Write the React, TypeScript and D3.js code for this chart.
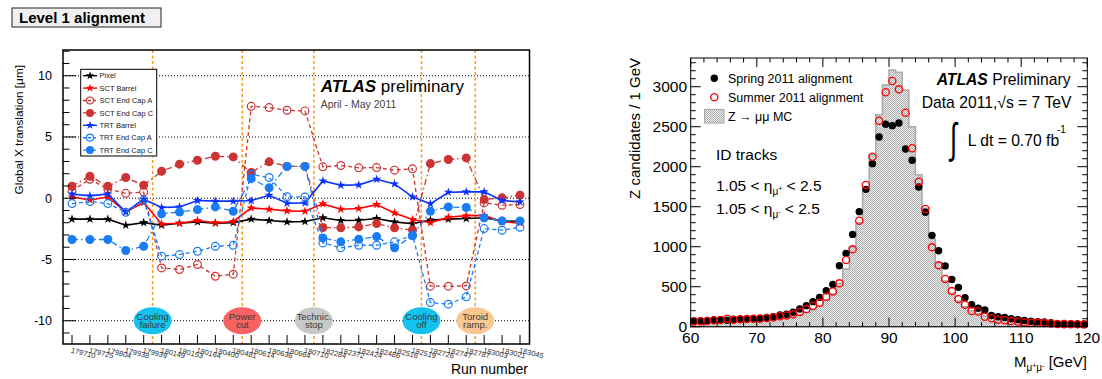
import React from "react";
import * as d3 from "d3";

// ---------------- Left panel data ----------------
const runs = ["179710","179725","179804","179938","179939","180149","180153","180164","180400","180481","180614","180636","180664","180710","182284","182372","182424","182486","182516","182519","182726","182747","182787","183003","183021","183045"];
const pixel = [-1.71,-1.71,-1.71,-2.2,-1.99,-2.2,-2.04,-1.93,-2.04,-1.99,-1.71,-1.82,-1.93,-1.9,-1.6,-1.82,-1.8,-1.66,-1.93,-2.08,-1.78,-1.71,-1.66,-1.6,-1.85,-1.88];
const sctBarrel = [0.1,-0.14,0.1,-1.12,-0.35,-2.1,-2.04,-1.82,-2.01,-1.9,-0.79,-0.9,-1.03,-1.06,-0.46,-0.9,-0.84,-0.52,-1.2,-1.74,-1.99,-1.55,-1.42,-1.4,-1.93,-2.01];
const sctECA = [0.6,1.55,0.75,0.4,0.5,-5.69,-5.82,-5.41,-6.37,-6.2,7.5,7.4,7.18,7.13,2.56,2.67,2.48,2.5,2.29,2.4,-7.18,-7.18,-7.16,-0.38,-0.57,-0.52];
const sctECC = [0.98,1.8,0.98,1.69,1.06,2.2,2.78,3.1,3.43,3.37,2.1,2.97,2.6,2.6,-2.39,-2.42,-2.34,-2.07,-2.42,-2.59,2.83,3.16,3.29,-0.11,0.03,0.24];
const trtBarrel = [0.35,0.19,0.35,-1.12,-0.08,-0.76,-0.71,-0.19,-0.24,-0.24,-0.19,0.24,-0.41,-0.38,1.41,1.06,1.09,1.55,1.17,0.11,-0.46,0.49,0.52,0.52,-0.19,-0.3];
const trtECA = [-0.44,-0.27,-0.44,-1.15,-0.15,-4.73,-4.6,-4.33,-3.92,-3.84,1.95,1.69,0.12,0.1,-3.65,-4.05,-3.84,-3.84,-3.56,-3.02,-8.52,-8.65,-8.05,-2.48,-2.61,-2.37];
const trtECC = [-3.37,-3.37,-3.37,-4.27,-3.92,-1.28,-1.12,-0.93,-0.71,-1.06,1.6,0.85,2.6,2.6,-3.24,-3.56,-3.35,-3.13,-4.05,-3.07,-1.06,-0.71,-0.76,-1.6,-1.85,-1.85];

const seriesNames = ["Pixel","SCT Barrel","SCT End Cap A","SCT End Cap C","TRT Barrel","TRT End Cap A","TRT End Cap C"];
const seriesValues = [pixel, sctBarrel, sctECA, sctECC, trtBarrel, trtECA, trtECC];
const seriesColors = ["#000000","#ff0000","#cc3333","#cc3333","#0a32ff","#1a7cf5","#1a7cf5"];
const seriesMarkers = ["star","star","open","filled","star","open","filled"];
const seriesDash = [null,null,"4,3","6,3,1.5,3",null,"4,3","6,3,1.5,3"];

// events happen between run index i and i+1
const eventAfterRun = [4, 9, 13, 19, 22];
const eventLine1 = ["Cooling","Power","Technic.","Cooling","Toroid"];
const eventLine2 = ["failure","cut","stop","off","ramp."];
const eventColors = ["#14c1ef","#f76262","#c8c8c8","#14c1ef","#f9c791"];
const leftYTicks = [-10, -5, 0, 5, 10];

// ---------------- Right panel data ----------------
// bins of 1 GeV from 60 to 120 GeV
const spring = [72,72,76,84,84,80,90,95,98,100, 105,115,125,146,155,180,221,263,313,367, 450,529,763,917,1154,1438,1717,2038,2371,2530, 2513,2546,2221,2080,1746,1430,1142,950,760,590, 492,363,275,230,210,140,125,115,100,88, 78,68,62,58,50,38,40,38,35,35];
const summer = [65,68,72,80,85,100,88,92,95,98, 100,108,115,130,140,155,185,220,262,300, 375,440,542,834,967,1325,1771,2125,2575,2930, 3071,2967,2675,2230,1813,1471,992,767,596,445, 345,275,196,190,125,105,88,80,70,62, 56,50,48,45,40,33,32,30,30,28];
const mcZmumu = [50,52,55,57,60,62,65,68,72,76, 80,86,93,102,115,130,150,178,210,255, 330,410,540,720,1000,1300,1700,2150,2650,3020, 3210,3180,2960,2500,1900,1480,1100,800,570,420, 320,250,200,165,135,115,97,83,72,63, 56,50,45,41,38,35,32,30,28,26];
const massLow = 60;
const massHigh = 120;
const rightYTicks = [0, 500, 1000, 1500, 2000, 2500, 3000];
const rightXTicks = [60, 70, 80, 90, 100, 110, 120];

const F = "'Liberation Sans', Arial, Helvetica, sans-serif";

export default function App() {
  // ---------- left scales ----------
  const L = { x0: 63, x1: 529.5, y0: 50, y1: 344 };
  const xL = d3.scaleLinear().domain([0, runs.length - 1]).range([72, 520]);
  const yL = d3.scaleLinear().domain([-11.9, 12.1]).range([L.y1, L.y0]);
  const lineGen = d3.line<number>().x((d, i) => xL(i)).y((d) => yL(d));
  const starPath = d3.symbol(d3.symbolStar, 26)() as string;
  const starLeg = d3.symbol(d3.symbolStar, 22)() as string;

  const drawMarker = (type: string, x: number, y: number, color: string, key: string, leg = false) => {
    if (type === "star")
      return <path key={key} transform={`translate(${x},${y})`} d={leg ? starLeg : starPath} fill={color} />;
    if (type === "open")
      return <circle key={key} cx={x} cy={y} r={leg ? 3.5 : 3.9} fill="none" stroke={color} strokeWidth={1.2} />;
    return <circle key={key} cx={x} cy={y} r={leg ? 4 : 4.5} fill={color} />;
  };

  const minorLeft = d3.range(-11, 13, 1);

  // ---------- right scales ----------
  const R = { x0: 690.7, x1: 1087.3, y0: 58, y1: 326.7 };
  const xR = d3.scaleLinear().domain([massLow, massHigh]).range([R.x0, R.x1]);
  const yR = d3.scaleLinear().domain([0, 3359]).range([R.y1, R.y0]);
  const mcPts = mcZmumu.map((v, i) => ({ x: massLow + i, v }));
  mcPts.push({ x: massHigh, v: mcZmumu[mcZmumu.length - 1] });
  const mcArea = d3
    .area<{ x: number; v: number }>()
    .curve(d3.curveStepAfter)
    .x((d) => xR(d.x))
    .y0(yR(0))
    .y1((d) => yR(d.v))(mcPts) as string;
  const rMinorY = d3.range(0, 3400, 100);
  const rMinorX = d3.range(massLow, massHigh + 0.1, 2);

  return (
    <svg width={1102} height={379} style={{ position: "absolute", left: 0, top: 0, background: "#fff" }} fontFamily={F}>
      <defs>
        <pattern id="chk" width={2} height={2} patternUnits="userSpaceOnUse">
          <rect width={2} height={2} fill="#ececec" />
          <rect width={1} height={1} fill="#b0b0b0" />
          <rect x={1} y={1} width={1} height={1} fill="#b0b0b0" />
        </pattern>
      </defs>

      {/* Title box */}
      <rect x={12} y={8} width={149} height={19} fill="#f0f0f0" stroke="#222" strokeWidth={1} />
      <text x={19} y={22.7} fontSize={15} fontWeight="bold" fill="#000">Level 1 alignment</text>

      {/* ===== Left panel ===== */}
      <rect x={L.x0} y={L.y0} width={L.x1 - L.x0} height={L.y1 - L.y0} fill="#fff" />
      {leftYTicks.map((t) => (
        <line key={"g" + t} x1={L.x0} x2={L.x1} y1={yL(t)} y2={yL(t)} stroke="#000" strokeWidth={1} strokeDasharray="1,2" />
      ))}
      {eventAfterRun.map((e, k) => (
        <line key={"ev" + k} x1={xL(e + 0.5)} x2={xL(e + 0.5)} y1={L.y0} y2={L.y1} stroke="#ff9a1f" strokeWidth={1.5} strokeDasharray="3,2.5" />
      ))}
      {eventAfterRun.map((e, k) => (
        <g key={"el" + k}>
          <ellipse cx={xL(e + 0.5)} cy={yL(-10)} rx={19} ry={13.5} fill={eventColors[k]} />
          <text x={xL(e + 0.5)} y={yL(-10) - 1} fontSize={9.5} textAnchor="middle" fill="#3a3a3a">{eventLine1[k]}</text>
          <text x={xL(e + 0.5)} y={yL(-10) + 7.5} fontSize={9.5} textAnchor="middle" fill="#3a3a3a">{eventLine2[k]}</text>
        </g>
      ))}
      {seriesValues.map((vals, s) => (
        <g key={"s" + s}>
          <path d={lineGen(vals) as string} fill="none" stroke={seriesColors[s]} strokeWidth={seriesDash[s] ? 1.3 : 1.6} strokeDasharray={seriesDash[s] || undefined} />
          {vals.map((v, i) => drawMarker(seriesMarkers[s], xL(i), yL(v), seriesColors[s], `m${s}-${i}`))}
        </g>
      ))}

      {/* legend */}
      <rect x={80.7} y={69.3} width={76} height={86.7} fill="#fff" stroke="#000" strokeWidth={1} />
      {seriesNames.map((n, k) => {
        const y = 75.7 + 12.4 * k;
        return (
          <g key={"lg" + k}>
            <line x1={83} x2={97} y1={y} y2={y} stroke={seriesColors[k]} strokeWidth={1.4} strokeDasharray={seriesDash[k] ? "3,2" : undefined} />
            {drawMarker(seriesMarkers[k], 90, y, seriesColors[k], "lm" + k, true)}
            <text x={99.5} y={y + 2.7} fontSize={7.5} fill="#222">{n}</text>
          </g>
        );
      })}

      {/* ATLAS label */}
      <text x={320.7} y={92.3} fontSize={17} fill="#000">
        <tspan fontWeight="bold" fontStyle="italic">ATLAS</tspan>
        <tspan> preliminary</tspan>
      </text>
      <text x={320.7} y={107.7} fontSize={10.5} fill="#444">April - May 2011</text>

      {/* frame + axes */}
      <rect x={L.x0} y={L.y0} width={L.x1 - L.x0} height={L.y1 - L.y0} fill="none" stroke="#000" strokeWidth={1.5} />
      {minorLeft.map((t) => (
        <line key={"mt" + t} x1={L.x0} x2={L.x0 + (t % 5 === 0 ? 13 : 6.5)} y1={yL(t)} y2={yL(t)} stroke="#000" strokeWidth={1} />
      ))}
      {leftYTicks.map((t) => (
        <text key={"yl" + t} x={52} y={yL(t) + 4.3} fontSize={12.5} textAnchor="end" fill="#000">{t}</text>
      ))}
      {runs.map((r, i) => (
        <g key={"xt" + i}>
          <line x1={xL(i)} x2={xL(i)} y1={L.y1} y2={L.y1 - 9} stroke="#000" strokeWidth={1} />
          <text transform={`translate(${xL(i) - 1.5},${L.y1 + 8.5}) rotate(14)`} fontSize={7.5} fill="#333">{r}</text>
        </g>
      ))}
      <text x={528} y={374} fontSize={14} textAnchor="end" fill="#000">Run number</text>
      <text transform={`translate(23,65) rotate(-90)`} fontSize={11.8} textAnchor="end" fill="#000">Global X translation [μm]</text>

      {/* ===== Right panel ===== */}
      <rect x={R.x0} y={R.y0} width={R.x1 - R.x0} height={R.y1 - R.y0} fill="#fff" />
      <path d={mcArea} fill="url(#chk)" stroke="#a9a9a9" strokeWidth={1.5} />
      {spring.map((v, i) => (
        <circle key={"sp" + i} cx={xR(massLow + i + 0.5)} cy={yR(v)} r={3.7} fill="#000" />
      ))}
      {summer.map((v, i) => (
        <circle key={"su" + i} cx={xR(massLow + i + 0.5)} cy={yR(v)} r={3.6} fill="none" stroke="#ff0000" strokeWidth={1.3} />
      ))}
      <rect x={R.x0} y={R.y0} width={R.x1 - R.x0} height={R.y1 - R.y0} fill="none" stroke="#000" strokeWidth={1} />
      {rMinorY.map((t) => {
        const len = t % 500 === 0 ? 10 : 5;
        return (
          <g key={"ry" + t}>
            <line x1={R.x0} x2={R.x0 + len} y1={yR(t)} y2={yR(t)} stroke="#000" strokeWidth={1} />
            <line x1={R.x1} x2={R.x1 - len} y1={yR(t)} y2={yR(t)} stroke="#000" strokeWidth={1} />
          </g>
        );
      })}
      {rMinorX.map((t) => {
        const len = t % 10 === 0 ? 9 : 4.5;
        return (
          <g key={"rx" + t}>
            <line x1={xR(t)} x2={xR(t)} y1={R.y1} y2={R.y1 - len} stroke="#000" strokeWidth={1} />
            <line x1={xR(t)} x2={xR(t)} y1={R.y0} y2={R.y0 + len} stroke="#000" strokeWidth={1} />
          </g>
        );
      })}
      {rightYTicks.map((t) => (
        <text key={"ryl" + t} x={687} y={yR(t) + 5.5} fontSize={15.5} textAnchor="end" fill="#000">{t}</text>
      ))}
      {rightXTicks.map((t) => (
        <text key={"rxl" + t} x={xR(t)} y={343} fontSize={15.5} textAnchor="middle" fill="#000">{t}</text>
      ))}
      <text transform={`translate(640,58) rotate(-90)`} fontSize={15} textAnchor="end" fill="#000">Z candidates / 1 GeV</text>
      <text x={1087} y={367} fontSize={15} textAnchor="end" fill="#000">
        M<tspan fontSize={10} dy={4}>μ</tspan><tspan fontSize={7} dy={-3}>+</tspan><tspan fontSize={10} dy={3}>μ</tspan><tspan fontSize={7} dy={-3}>-</tspan><tspan fontSize={15} dy={-1}> [GeV]</tspan>
      </text>

      {/* right legend */}
      <circle cx={714.3} cy={78.3} r={3.7} fill="#000" />
      <text x={728} y={82.8} fontSize={12.5} fill="#000">Spring 2011 alignment</text>
      <circle cx={714.3} cy={97.3} r={3.6} fill="none" stroke="#ff0000" strokeWidth={1.3} />
      <text x={728} y={101.8} fontSize={12.5} fill="#000">Summer 2011 alignment</text>
      <rect x={704.5} y={109.5} width={19.5} height={13.5} fill="url(#chk)" stroke="#a9a9a9" strokeWidth={1} />
      <text x={728} y={121} fontSize={12.5} fill="#000">Z → μμ MC</text>

      {/* right labels */}
      <text x={936.7} y={85} fontSize={15.7} fill="#000">
        <tspan fontWeight="bold" fontStyle="italic">ATLAS</tspan>
        <tspan> Preliminary</tspan>
      </text>
      <text x={921.7} y={108.3} fontSize={15.7} fill="#000">Data 2011,√s = 7 TeV</text>
      <text transform="translate(950,153) scale(0.75,1.25)" fontSize={34} fill="#000">∫</text>
      <text x={967.7} y={146} fontSize={15.7} fill="#000">L dt = 0.70 fb</text>
      <text x={1057} y={133} fontSize={10} fill="#000">-1</text>

      <text x={716} y={160} fontSize={15.5} fill="#000">ID tracks</text>
      <text x={716} y={191} fontSize={15.5} fill="#000">
        1.05 &lt; η<tspan fontSize={10} dy={4}>μ</tspan><tspan fontSize={7} dy={-4}>+</tspan><tspan fontSize={15.5} dy={0}> &lt; 2.5</tspan>
      </text>
      <text x={716} y={214} fontSize={15.5} fill="#000">
        1.05 &lt; η<tspan fontSize={10} dy={4}>μ</tspan><tspan fontSize={7} dy={-4}>-</tspan><tspan fontSize={15.5} dy={0}> &lt; 2.5</tspan>
      </text>
    </svg>
  );
}
